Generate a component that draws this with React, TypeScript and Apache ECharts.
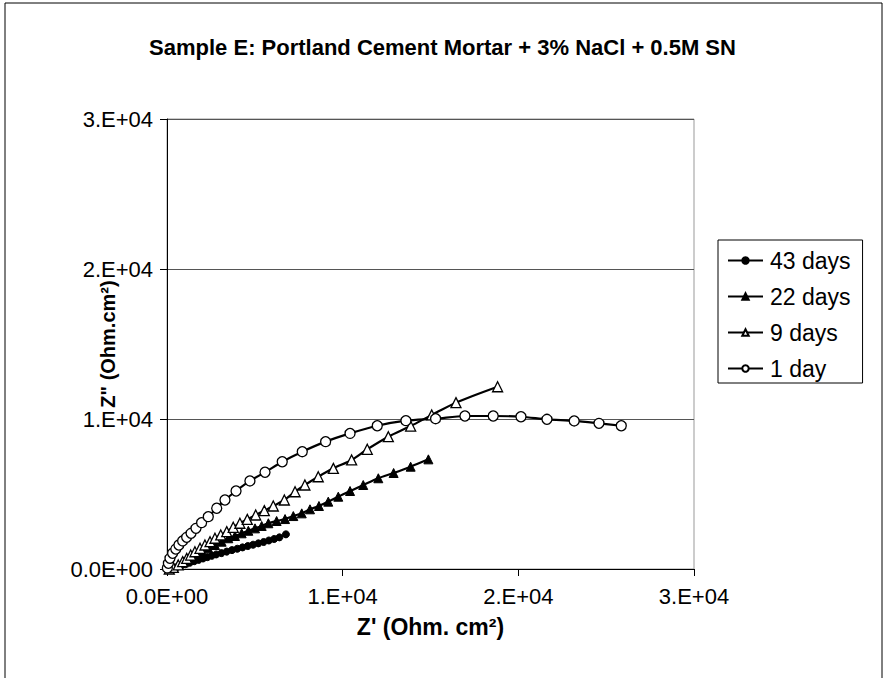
import React, { useEffect, useRef } from "react";
import * as echarts from "echarts";

const TITLE = "Sample E: Portland Cement Mortar + 3% NaCl + 0.5M SN";
const X_NAME = "Z' (Ohm. cm\u00B2)";
const Y_NAME = 'Z" (Ohm.cm\u00B2)';
const TICK_LABELS: Record<number, string> = { 0: "0.0E+00", 10000: "1.E+04", 20000: "2.E+04", 30000: "3.E+04" };

const seriesNames = ["43 days", "22 days", "9 days", "1 day"];

const day43X = [100, 300, 550, 800, 1050, 1300, 1550, 1800, 2050, 2300, 2550, 2800, 3100, 3400, 3700, 4000, 4300, 4600, 4900, 5200, 5500, 5800, 6100, 6400, 6770];
const day43Y = [20, 60, 120, 220, 320, 420, 520, 610, 700, 790, 880, 970, 1060, 1160, 1260, 1350, 1440, 1530, 1620, 1710, 1800, 1900, 2000, 2110, 2310];

const day22X = [360, 640, 970, 1310, 1650, 1970, 2350, 2730, 3110, 3490, 3870, 4250, 4630, 5010, 5390, 5770, 6240, 6720, 7190, 7670, 8140, 8650, 9180, 9750, 10420, 11170, 12030, 12900, 13870, 14880];
const day22Y = [110, 270, 490, 710, 930, 1150, 1380, 1600, 1820, 2050, 2200, 2380, 2550, 2710, 2870, 3050, 3200, 3330, 3530, 3710, 3980, 4200, 4490, 4820, 5200, 5600, 6050, 6400, 6820, 7310];

const day9X = [130, 360, 640, 890, 1120, 1350, 1590, 1880, 2160, 2450, 2730, 3060, 3400, 3770, 4150, 4570, 5050, 5540, 6050, 6680, 7290, 7850, 8610, 9470, 10510, 11400, 12600, 13870, 15070, 16450, 18820];
const day9Y = [0, 110, 270, 490, 710, 930, 1150, 1380, 1600, 1820, 2050, 2270, 2490, 2780, 3050, 3310, 3600, 3890, 4200, 4600, 5150, 5600, 6150, 6710, 7270, 7980, 8820, 9530, 10270, 11090, 12150];

const day1X = [20, 80, 170, 320, 500, 680, 890, 1120, 1370, 1650, 1970, 2350, 2830, 3300, 3930, 4720, 5580, 6560, 7700, 9030, 10420, 11970, 13600, 15290, 16960, 18570, 20150, 21630, 23180, 24590, 25860];
const day1Y = [70, 380, 710, 1050, 1330, 1600, 1870, 2110, 2380, 2710, 3090, 3490, 4050, 4600, 5200, 5870, 6450, 7150, 7820, 8490, 9040, 9550, 9890, 10020, 10200, 10200, 10150, 9980, 9870, 9710, 9550];

const zip = (xs: number[], ys: number[]) => xs.map((x, i) => [x, ys[i]]);

const FONT = "'Liberation Sans', Arial, sans-serif";

export default function App() {
  const ref = useRef<HTMLDivElement>(null);
  useEffect(() => {
    if (!ref.current) return;
    const chart = echarts.init(ref.current, undefined, { renderer: "svg" });
    const fmt = (v: number) => TICK_LABELS[v] ?? String(v);
    const baseLine = { color: "#000", width: 2.2 };
    chart.setOption({
      animation: false,
      backgroundColor: "#fff",
      textStyle: { fontFamily: FONT },
      title: {
        text: TITLE,
        left: "center",
        top: 31,
        textStyle: { fontFamily: FONT, fontSize: 22, fontWeight: "bold", color: "#000" },
      },
      graphic: [
        {
          type: "rect",
          shape: { x: 5, y: 3, width: 877, height: 700 },
          style: { fill: "none", stroke: "#000", lineWidth: 1 },
          silent: true,
          z: -1,
        },
      ],
      grid: {
        left: 167,
        right: 191,
        top: 119,
        bottom: 109,
        show: true,
        borderColor: "#999",
        borderWidth: 1,
        containLabel: false,
      },
      legend: {
        orient: "vertical",
        left: 718,
        top: 240,
        data: seriesNames,
        itemWidth: 35,
        itemHeight: 8,
        itemGap: 13,
        padding: [9, 12, 3, 9],
        borderColor: "#000",
        borderWidth: 1,
        backgroundColor: "#fff",
        textStyle: { fontFamily: FONT, fontSize: 23, color: "#000", lineHeight: 23, padding: [0, 0, 0, 2] },
      },
      xAxis: {
        type: "value",
        min: 0,
        max: 30000,
        interval: 10000,
        name: X_NAME,
        nameLocation: "middle",
        nameGap: 46,
        nameMoveOverlap: false,
        nameTextStyle: { fontFamily: FONT, fontSize: 23, fontWeight: "bold", color: "#000" },
        axisLine: { show: true, lineStyle: { color: "#000", width: 1 } },
        axisTick: { show: true, inside: false, length: 7, lineStyle: { color: "#000" } },
        axisLabel: { formatter: fmt, fontFamily: FONT, fontSize: 22, color: "#000", margin: 16 },
        splitLine: { show: false },
      },
      yAxis: {
        type: "value",
        min: 0,
        max: 30000,
        interval: 10000,
        name: Y_NAME,
        nameLocation: "middle",
        nameGap: 49,
        nameMoveOverlap: false,
        nameTextStyle: { fontFamily: FONT, fontSize: 20, fontWeight: "bold", color: "#000" },
        axisLine: { show: true, lineStyle: { color: "#000", width: 1 } },
        axisTick: { show: true, inside: false, length: 7, lineStyle: { color: "#000" } },
        axisLabel: { formatter: fmt, fontFamily: FONT, fontSize: 22, color: "#000", margin: 14 },
        splitLine: { show: true, lineStyle: { color: "#555", width: 1 } },
      },
      series: [
        {
          name: seriesNames[0],
          type: "line",
          data: zip(day43X, day43Y),
          smooth: 0.3,
          symbol: "circle",
          symbolSize: 7,
          lineStyle: baseLine,
          itemStyle: { color: "#000", borderColor: "#000", borderWidth: 1 },
        },
        {
          name: seriesNames[1],
          type: "line",
          data: zip(day22X, day22Y),
          smooth: 0.3,
          symbol: "triangle",
          symbolSize: 9,
          lineStyle: baseLine,
          itemStyle: { color: "#000", borderColor: "#000", borderWidth: 1 },
        },
        {
          name: seriesNames[2],
          type: "line",
          data: zip(day9X, day9Y),
          smooth: 0.3,
          symbol: "triangle",
          symbolSize: 10,
          lineStyle: baseLine,
          itemStyle: { color: "#fff", borderColor: "#000", borderWidth: 1.3 },
        },
        {
          name: seriesNames[3],
          type: "line",
          data: zip(day1X, day1Y),
          smooth: 0.3,
          symbol: "circle",
          symbolSize: 10,
          lineStyle: baseLine,
          itemStyle: { color: "#fff", borderColor: "#000", borderWidth: 1.3 },
        },
      ].map((s) => ({ ...s, showAllSymbol: true })),
    });
    return () => chart.dispose();
  }, []);
  return (
    <div
      ref={ref}
      style={{ position: "absolute", left: 0, top: 0, width: 885, height: 678 }}
    />
  );
}
